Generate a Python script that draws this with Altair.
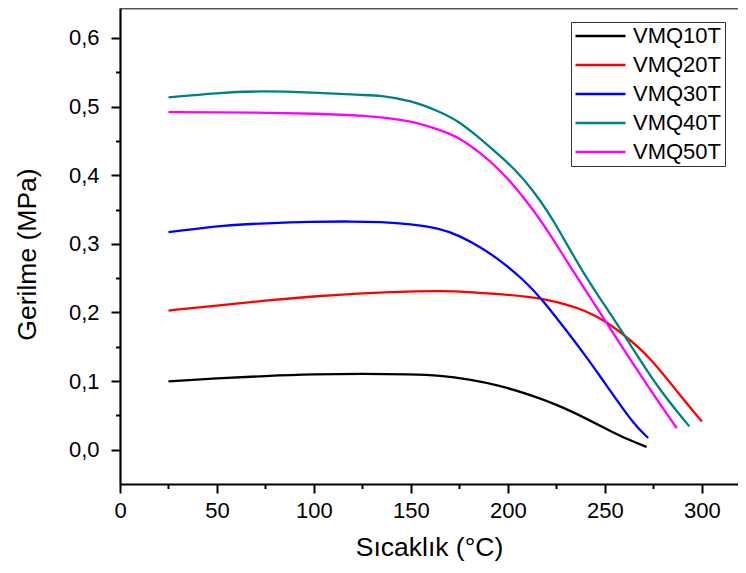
import altair as alt
import pandas as pd

series_names = ["VMQ10T", "VMQ20T", "VMQ30T", "VMQ40T", "VMQ50T"]
series_colors = ["#000000", "#FF0000", "#0000FF", "#008080", "#FF00FF"]

x10 = [25, 50, 75, 100, 125, 150, 165, 180, 195, 210, 225, 240, 255, 263, 271.5]
y10 = [0.0995, 0.104, 0.1075, 0.1100, 0.1108, 0.1100, 0.1082, 0.1025, 0.094, 0.0815, 0.066, 0.046, 0.024, 0.0135, 0.004]

x20 = [25, 50, 75, 100, 125, 150, 165, 180, 196, 210, 218, 230, 239, 250, 260, 273, 289, 300]
y20 = [0.2028, 0.2100, 0.2175, 0.2235, 0.228, 0.2308, 0.2315, 0.2300, 0.2266, 0.223, 0.2198, 0.212, 0.2038, 0.188, 0.167, 0.136, 0.078, 0.041]

x30 = [25, 55, 75, 98, 120, 134, 150, 165, 175, 186, 196, 208, 218, 230, 239, 248, 256, 265, 272.3]
y30 = [0.317, 0.3275, 0.330, 0.3323, 0.3327, 0.332, 0.329, 0.3226, 0.312, 0.295, 0.276, 0.248, 0.218, 0.174, 0.1407, 0.105, 0.0728, 0.037, 0.017]

x40 = [25, 50, 72, 100, 124, 134, 150, 165, 175, 185, 192.4, 200, 208, 216.5, 223.4, 237, 248, 259.4, 276.6, 293.5]
y40 = [0.5134, 0.520, 0.523, 0.5205, 0.5167, 0.5167, 0.509, 0.4925, 0.478, 0.455, 0.4367, 0.418, 0.395, 0.364, 0.3348, 0.266, 0.218, 0.17, 0.092, 0.034]

x50 = [25, 50, 75, 100, 125, 150, 165, 175, 186, 195, 203, 211, 220, 232, 251, 270, 287]
y50 = [0.492, 0.4918, 0.491, 0.4898, 0.4875, 0.480, 0.4658, 0.455, 0.432, 0.410, 0.385, 0.357, 0.322, 0.267, 0.184, 0.101, 0.0316]

x_ticks = [0, 25, 50, 75, 100, 125, 150, 175, 200, 225, 250, 275, 300]
y_ticks = [0.0, 0.05, 0.1, 0.15, 0.2, 0.25, 0.3, 0.35, 0.4, 0.45, 0.5, 0.55, 0.6]

rows = []
for name, xs, ys in zip(series_names, [x10, x20, x30, x40, x50], [y10, y20, y30, y40, y50]):
    for i, (xv, yv) in enumerate(zip(xs, ys)):
        rows.append({"series": name, "T": xv, "S": yv, "order": i})
df = pd.DataFrame(rows)

FONT = "Liberation Sans"
xscale = alt.Scale(domain=[0, 318.6], nice=False, zero=False)
yscale = alt.Scale(domain=[-0.05, 0.6437], nice=False, zero=False)

lines = alt.Chart(df).mark_line(interpolate="basis", strokeWidth=2.3).encode(
    x=alt.X("T:Q", scale=xscale, axis=alt.Axis(
        title="Sıcaklık (°C)", values=x_ticks, grid=False,
        labelExpr="datum.value % 50 === 0 ? datum.label : ''",
        tickSize={"condition": {"test": "datum.value % 50 !== 0", "value": 4.5}, "value": 9},
        labelPadding=7, titlePadding=13, labelFlush=False)),
    y=alt.Y("S:Q", scale=yscale, axis=alt.Axis(
        title="Gerilme (MPa)", values=y_ticks, grid=False,
        labelExpr="round(datum.value*20) % 2 === 0 ? replace(format(datum.value, '.1f'), '.', ',') : ''",
        tickSize={"condition": {"test": "round(datum.value*20) % 2 !== 0", "value": 4.5}, "value": 9},
        labelPadding=12, titlePadding=27, titleY=246, labelFlush=False)),
    color=alt.Color("series:N", scale=alt.Scale(domain=series_names, range=series_colors),
                    legend=alt.Legend(title=None, orient="none", legendX=451, legendY=14,
                                      symbolType="stroke", symbolSize=2500, symbolStrokeWidth=2.6,
                                      labelFontSize=22, labelFont=FONT, labelOffset=6,
                                      rowPadding=7, clipHeight=22, padding=3,
                                      strokeColor="#333333", fillColor="white")),
    order="order:Q",
)

top = alt.Chart(df).mark_line(opacity=0).encode(
    x=alt.X("T:Q", scale=xscale, axis=alt.Axis(orient="top", labels=False, ticks=False, title=None,
                                               grid=False, domainColor="#555555", domainWidth=1.8)),
    y=alt.Y("S:Q", scale=yscale, axis=None),
    detail="series:N",
)

chart = alt.layer(lines, top).resolve_axis(x="independent", y="independent").properties(
    width=618, height=476,
    autosize=alt.AutoSizeParams(type="none"),
    padding={"left": 112, "top": 0, "right": 0, "bottom": 81},
).configure_view(stroke=None).configure_axis(
    labelFont=FONT, titleFont=FONT, labelFontSize=22, titleFontSize=26.5,
    titleFontWeight="normal", labelColor="black", titleColor="black",
    domainColor="black", domainWidth=2.2, tickColor="black", tickWidth=2,
)

chart.save("out.html", embed_options={"renderer": "svg", "actions": False})
